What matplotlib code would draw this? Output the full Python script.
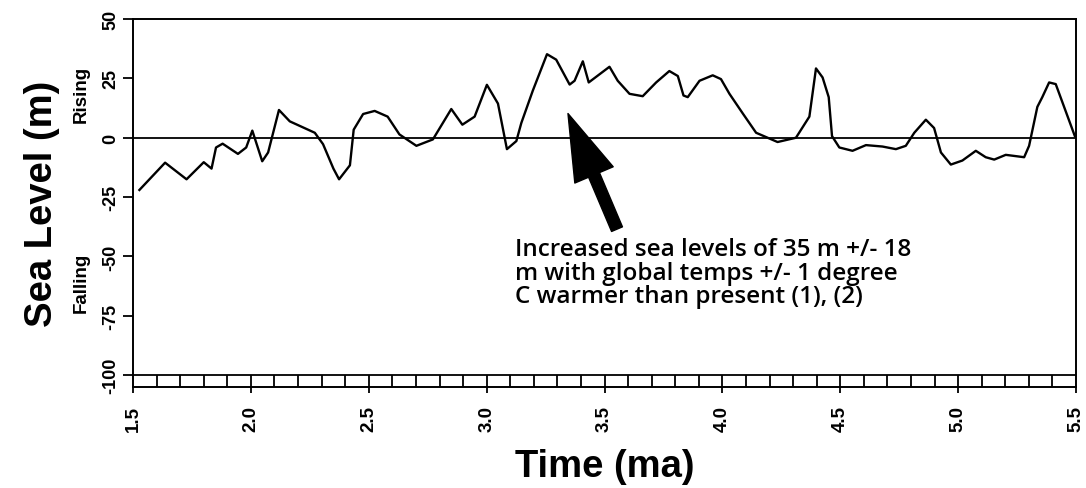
import numpy as np
import matplotlib
matplotlib.use("Agg")
import matplotlib.pyplot as plt

plt.rcParams["font.family"] = ["Liberation Sans", "DejaVu Sans"]
plt.rcParams["font.weight"] = "bold"
plt.rcParams["axes.labelweight"] = "bold"

# --------------------------------------------------------------------
# sea level curve (time in ma, level in m)
time_ma = [1.527, 1.636, 1.727, 1.80, 1.833, 1.852, 1.88, 1.945, 1.98, 2.006,
           2.048, 2.073, 2.119, 2.165, 2.271, 2.306, 2.35, 2.374, 2.42, 2.436,
           2.476, 2.525, 2.58, 2.63, 2.702, 2.772, 2.85, 2.897, 2.949, 3.001,
           3.048, 3.086, 3.126, 3.147, 3.196, 3.256, 3.295, 3.352, 3.373, 3.408,
           3.433, 3.521, 3.556, 3.606, 3.662, 3.719, 3.775, 3.811, 3.835, 3.853,
           3.903, 3.959, 3.994, 4.03, 4.086, 4.143, 4.234, 4.312, 4.369, 4.397,
           4.425, 4.451, 4.465, 4.496, 4.552, 4.609, 4.679, 4.736, 4.778, 4.814,
           4.863, 4.898, 4.927, 4.969, 5.018, 5.075, 5.117, 5.153, 5.202, 5.28,
           5.301, 5.336, 5.357, 5.386, 5.414, 5.495]
sea_level = [-22, -10.5, -17.5, -10.3, -13, -4.1, -2.5, -6.8, -4.1, 3,
             -9.9, -6.2, 11.7, 6.9, 2.1, -2.7, -13, -17.5, -11.6, 3.4,
             10, 11.3, 8.9, 1.4, -3.4, -0.7, 12.1, 5.5, 8.9, 22.3,
             14.4, -4.8, -1.4, 6.2, 19.9, 35.2, 32.9, 22.4, 24, 32.2,
             23.3, 29.9, 24, 18.5, 17.5, 23.3, 28.1, 26, 17.8, 17.1,
             24, 26.3, 24.7, 18.5, 10.3, 2.1, -1.8, 0, 8.9, 29.2,
             25.4, 17.1, 0.7, -4.1, -5.5, -3.1, -3.7, -4.8, -3.4, 2.1,
             7.6, 4.1, -6.2, -11.3, -9.6, -5.5, -8.2, -9.2, -7.2, -8.2,
             -3.4, 13, 17.1, 23.3, 22.6, 0.7]

x_ticks = [1.5, 2.0, 2.5, 3.0, 3.5, 4.0, 4.5, 5.0, 5.5]
x_tick_labels = ["1.5", "2.0", "2.5", "3.0", "3.5", "4.0", "4.5", "5.0", "5.5"]
y_ticks = [50, 25, 0, -25, -50, -75, -100]
y_tick_labels = ["50", "25", "0", "-25", "-50", "-75", "-100"]

note = ("Increased sea levels of 35 m +/- 18\n"
        "m with global temps +/- 1 degree\n"
        "C warmer than present (1), (2)")

# --------------------------------------------------------------------
fig = plt.figure(figsize=(10.86, 4.89), dpi=100)
ax = fig.add_axes([0.1225, 0.2065, 0.8683, 0.7525])

ax.plot(time_ma, sea_level, color="black", linewidth=1.7)
ax.axhline(0, color="black", linewidth=1.3)

# time scale strip under -100
ax.axhline(-100, color="black", linewidth=1.3)
ax.vlines(np.arange(1.6, 5.45, 0.1), -105, -100, color="black", linewidth=1.3)

ax.set_xlim(1.5, 5.5)
ax.set_ylim(-105, 50)

ax.tick_params(axis="x", length=4, width=1.3, pad=9, labelsize=13.5,
               labelrotation=90)
ax.tick_params(axis="y", length=7, width=1.3, pad=3, labelsize=13,
               labelrotation=90)
ax.set_xticks(x_ticks)
ax.set_xticklabels(x_tick_labels)
ax.set_yticks(y_ticks)
ax.set_yticklabels(y_tick_labels, va="center")
for s in ax.spines.values():
    s.set_linewidth(1.4)

ax.set_ylabel("Sea Level (m)", fontsize=27.5, fontweight="bold", labelpad=30)
ax.set_xlabel("Time (ma)", fontsize=27.5, fontweight="bold", labelpad=12)

fig.text(0.075, 0.806, "Rising", rotation=90, ha="center", va="center",
         fontsize=13.5)
fig.text(0.075, 0.421, "Falling", rotation=90, ha="center", va="center",
         fontsize=13.5)

ax.annotate("", xy=(3.345, 10.2), xytext=(3.553, -38.5),
            arrowprops=dict(facecolor="black", edgecolor="black", width=8.5,
                            headwidth=30, headlength=48, shrink=0))
ax.text(3.12, -42, note, ha="left", va="top", fontsize=17.5,
        fontweight="semibold", family="Open Sans", linespacing=0.95)

fig.savefig("out.png", dpi=100)
